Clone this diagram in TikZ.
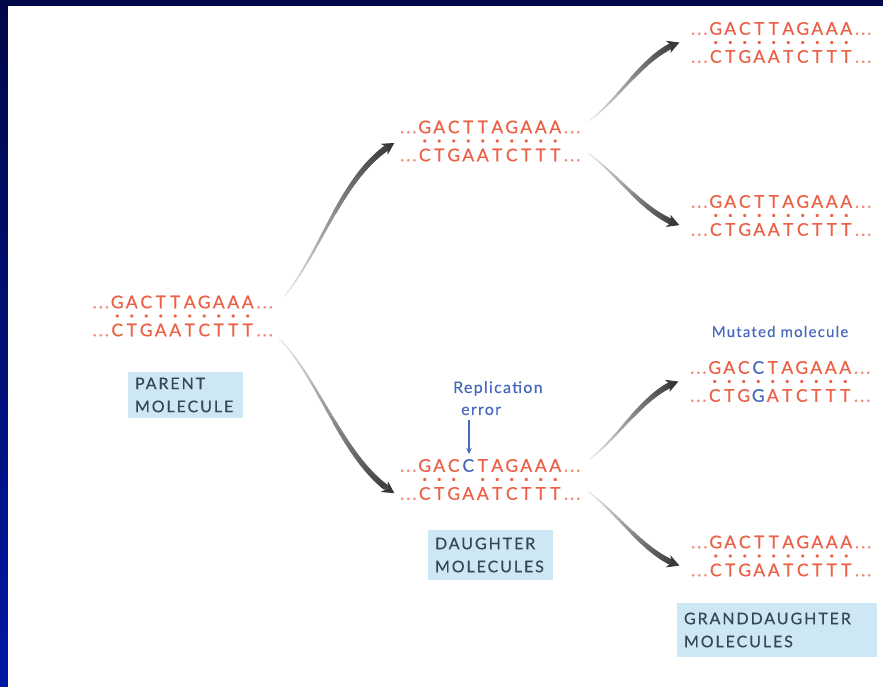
\documentclass[tikz,border=0pt]{standalone}
\usepackage{fontspec}
\setmainfont{Lato}
\newfontfamily\dnafont[FakeBold=0.5]{Lato}
\newfontfamily\lblfont[LetterSpace=12,FakeBold=0.3]{Lato}
\newfontfamily\notefont[LetterSpace=8,FakeBold=0.2]{Lato}
\usetikzlibrary{decorations.markings,arrows.meta}
\definecolor{navy}{RGB}{0,8,72}
\definecolor{brightblue}{RGB}{0,24,165}
\definecolor{dnared}{RGB}{236,96,70}
\definecolor{dotred}{RGB}{242,140,120}
\definecolor{lblbox}{RGB}{205,232,244}
\definecolor{lbltext}{RGB}{55,70,85}
\definecolor{mblue}{RGB}{72,104,190}
\newcommand\bsB[1]{\makebox[14.5pt]{#1}}
\newcommand\bsDot{\makebox[14.5pt]{\fontsize{23}{14}\selectfont.}}
\newcommand\bsNo{\makebox[14.5pt]{}}
\newcommand\bsLd{\makebox[19pt][r]{\textcolor{dotred}{.\kern2pt.\kern2pt.}\kern1pt}}
\newcommand\bsRd{\makebox[20pt][l]{\kern1.5pt\textcolor{dotred}{.\kern2pt.\kern2pt.}}}
\newcommand\bsDots[1]{\raisebox{5pt}{\makebox[19pt]{}#1\makebox[20pt]{}}}
\newcommand\bsMb[1]{\textcolor{mblue}{#1}}
\newcommand\rowTop{\bsLd\bsB G\bsB A\bsB C\bsB T\bsB T\bsB A\bsB G\bsB A\bsB A\bsB A\bsRd}
\newcommand\rowBot{\bsLd\bsB C\bsB T\bsB G\bsB A\bsB A\bsB T\bsB C\bsB T\bsB T\bsB T\bsRd}
\newcommand\rowDots{\bsDots{\bsDot\bsDot\bsDot\bsDot\bsDot\bsDot\bsDot\bsDot\bsDot\bsDot}}
\newcommand\rowMutTop{\bsLd\bsB G\bsB A\bsB C\bsB{\bsMb C}\bsB T\bsB A\bsB G\bsB A\bsB A\bsB A\bsRd}
\newcommand\rowMutBot{\bsLd\bsB C\bsB T\bsB G\bsB{\bsMb G}\bsB A\bsB T\bsB C\bsB T\bsB T\bsB T\bsRd}
\newcommand\rowGapDots{\bsDots{\bsDot\bsDot\bsDot\bsNo\bsDot\bsDot\bsDot\bsDot\bsDot\bsDot}}
\tikzset{
  dna/.style={font=\dnafont\fontsize{17.5}{14}\selectfont, text=dnared, align=left, inner sep=0pt},
  lbl/.style={fill=lblbox, font=\lblfont\fontsize{16}{23}\selectfont, text=lbltext,
    align=left, inner xsep=7pt, inner ysep=0pt},
  note/.style={font=\notefont\fontsize{16}{22}\selectfont, text=mblue, align=left, inner sep=0pt},
  garrow/.style={postaction={decorate}, decoration={markings,
    mark=between positions 0 and 0.94 step 1pt with {
      \pgfmathsetmacro\arF{\pgfkeysvalueof{/pgf/decoration/mark info/sequence number}/\pgfdecoratedpathlength}
      \pgfmathsetmacro\arG{8+70*\arF}
      \pgfmathsetmacro\arR{0.7+2.5*\arF}
      \fill[black!\arG] (0,0) circle[radius=\arR pt];
    }}},
  ghead/.style={draw=black!78, line width=0.8pt, -{Stealth[length=12pt,width=13pt]}}
}
\begin{document}
\begin{tikzpicture}[x=1pt,y=-1pt]
\useasboundingbox (0,0) rectangle (883,687);
\fill[navy] (0,0) rectangle (883,687);
\shade[top color=navy,bottom color=brightblue] (0,0) rectangle (8,687);
\fill[navy] (0,0) rectangle (883,6);
\fill[white] (8,6) rectangle (883,687);

% DNA blocks
\node[dna] (p)  at (183,316)   {\rowTop\\\rowDots\\\rowBot};
\node[dna] (dt) at (490.5,141) {\rowTop\\\rowDots\\\rowBot};
\node[dna] (db) at (490.5,479.5) {\rowMutTop\\\rowGapDots\\\rowBot};
\node[dna] (g1) at (781.5,42.5) {\rowTop\\\rowDots\\\rowBot};
\node[dna] (g2) at (781.5,215.5) {\rowTop\\\rowDots\\\rowBot};
\node[dna] (g3) at (780.5,381.5) {\rowMutTop\\\rowDots\\\rowMutBot};
\node[dna] (g4) at (781.5,556) {\rowTop\\\rowDots\\\rowBot};

% labels
\node[lbl, minimum width=115pt, minimum height=46pt, text width=101pt] (lp) at (185.5,395) {PARENT\\MOLECULE};
\node[lbl, minimum width=125pt, minimum height=50pt, text width=111pt] (ld) at (490.5,555) {DAUGHTER\\MOLECULES};
\node[lbl, minimum width=200pt, minimum height=54pt, text width=186pt] (lg) at (777,630) {GRANDDAUGHTER\\MOLECULES};

% notes
\node[note, anchor=north west] (rep) at (453,381) {Replication\\\hspace*{8pt}error};
\coordinate (errtip) at (469,454);
\draw[mblue, line width=1.3pt, -{Stealth[length=6pt,width=5.5pt]}] ([yshift=-5pt]rep.south -| errtip) -- (errtip);
\node[note, font=\notefont\fontsize{15}{20}\selectfont, anchor=base] (mm) at (780,337) {Mutated molecule};

% arrows
\path[garrow] ([xshift=9pt,yshift=-1pt]p.north east) .. controls +(38,-46) and +(-52,30) .. ([xshift=-4pt,yshift=-2pt]dt.west) coordinate (e1) coordinate[pos=0.96] (h1);
\path[garrow] ([xshift=4pt,yshift=-2pt]p.south east) .. controls +(40,40) and +(-50,-30) .. ([xshift=-4pt,yshift=7pt]db.south west) coordinate (e2) coordinate[pos=0.96] (h2);
\path[garrow] ([xshift=7pt]dt.north east) .. controls +(30,-22) and +(-35,12) .. ([xshift=-10pt]g1.west) coordinate (e3) coordinate[pos=0.95] (h3);
\path[garrow] ([xshift=6pt,yshift=8pt]dt.south east) .. controls +(30,22) and +(-35,-12) .. ([xshift=-10pt,yshift=11pt]g2.south west) coordinate (e4) coordinate[pos=0.95] (h4);
\path[garrow] ([xshift=7pt]db.north east) .. controls +(30,-22) and +(-35,12) .. ([xshift=-10pt]g3.west) coordinate (e5) coordinate[pos=0.95] (h5);
\path[garrow] ([xshift=6pt,yshift=8pt]db.south east) .. controls +(30,22) and +(-35,-12) .. ([xshift=-10pt,yshift=11pt]g4.south west) coordinate (e6) coordinate[pos=0.95] (h6);
\foreach \i in {1,...,6} \draw[ghead] (h\i) -- (e\i);
\end{tikzpicture}
\end{document}
